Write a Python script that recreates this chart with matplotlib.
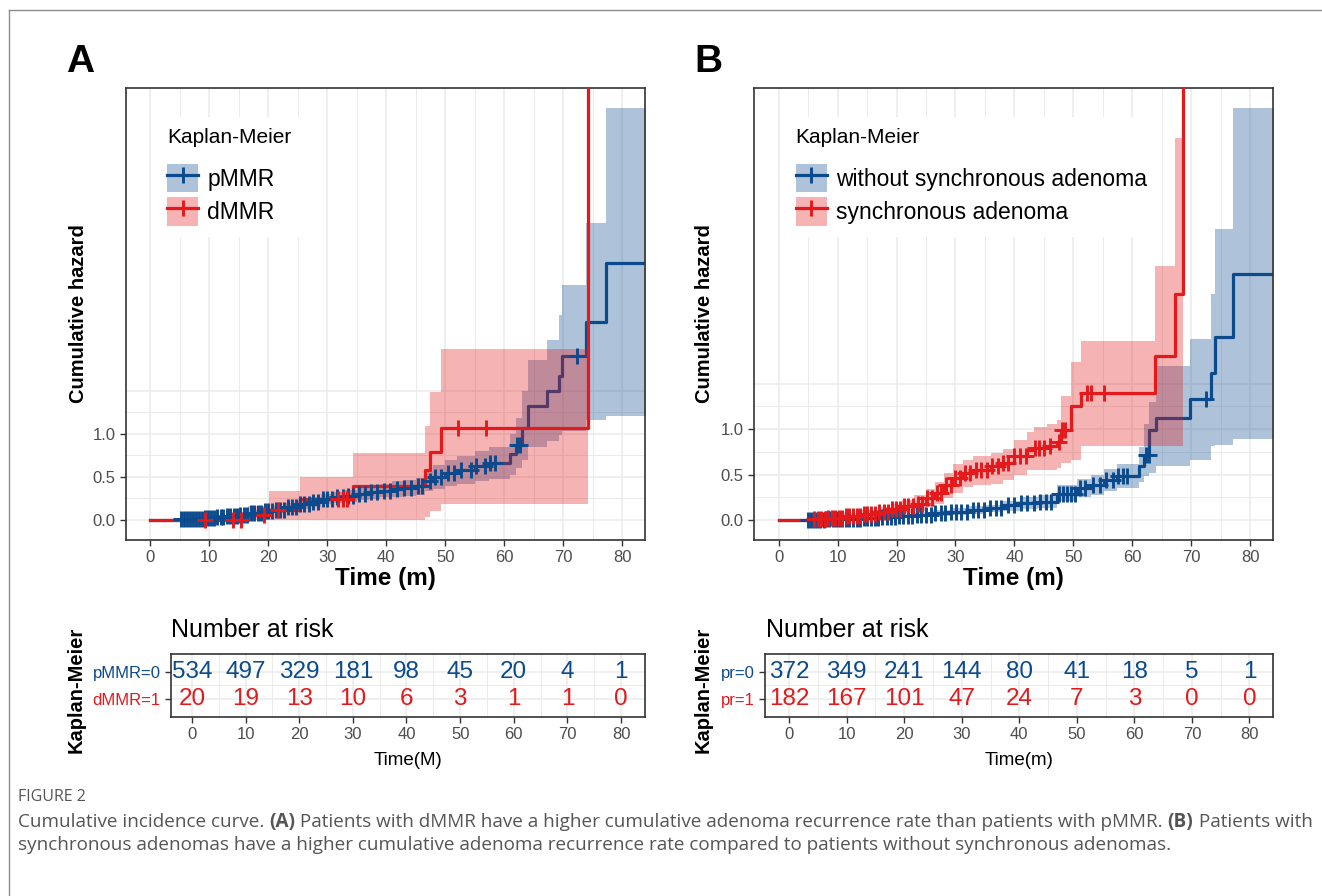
import numpy as np
import matplotlib
matplotlib.use('Agg')
import matplotlib.pyplot as plt
from matplotlib.patches import Patch
from matplotlib.lines import Line2D

plt.rcParams['font.family'] = ['Liberation Sans', 'DejaVu Sans']

BLUE = '#0B4A8C'
RED = '#E3191C'
GRID = '#EBEBEB'
BIG = 1000  # cumulative hazard goes to infinity at the last event

# ---------------- panel A: pMMR vs dMMR ----------------
a_pmmr_t = [0, 5, 7, 9, 11, 13, 15, 17, 19, 21, 23, 25, 27, 29, 31, 33, 35, 37, 39, 41,
            43, 45, 46.5, 48, 50, 52, 55, 57.5, 61, 62, 63, 64, 67.3, 69.3, 69.8, 73.8, 77.3]
a_pmmr_v = [0, 0.005, 0.01, 0.02, 0.03, 0.045, 0.06, 0.08, 0.10, 0.12, 0.15, 0.18, 0.21, 0.24,
            0.26, 0.28, 0.30, 0.32, 0.34, 0.36, 0.37, 0.39, 0.45, 0.50, 0.54, 0.58, 0.62, 0.66,
            0.76, 0.87, 1.07, 1.32, 1.49, 1.67, 1.90, 2.29, 2.98]
a_pmmr_lo = [0, 0, 0, 0.005, 0.01, 0.02, 0.03, 0.045, 0.06, 0.08, 0.10, 0.13, 0.15, 0.18, 0.20,
             0.21, 0.23, 0.24, 0.26, 0.27, 0.28, 0.29, 0.33, 0.36, 0.39, 0.42, 0.45, 0.47, 0.52,
             0.60, 0.70, 0.85, 0.92, 0.98, 1.03, 1.16, 1.20]
a_pmmr_up = [0, 0.015, 0.025, 0.04, 0.055, 0.07, 0.09, 0.115, 0.14, 0.165, 0.20, 0.23, 0.27,
             0.30, 0.32, 0.35, 0.37, 0.40, 0.42, 0.45, 0.46, 0.49, 0.57, 0.64, 0.69, 0.74, 0.80,
             0.84, 1.00, 1.18, 1.50, 1.86, 2.09, 2.38, 2.72, 3.44, 4.78]
a_pmmr_end = 84
a_pmmr_cens = [5.2, 5.7, 6.2, 6.7, 7.2, 7.7, 8.2, 8.7, 9.2, 9.7, 10.2, 10.8, 11.3, 11.9, 12.4,
               13.0, 13.5, 14.1, 14.7, 15.2, 15.8, 16.4, 17.0, 17.6, 18.2, 18.8, 19.4, 20.0,
               20.7, 21.3, 22.0, 22.6, 23.3, 24.0, 24.7, 25.4, 26.1, 26.9, 27.6, 28.4, 29.2,
               30.0, 30.8, 31.7, 32.6, 33.5, 34.4, 35.4, 36.4, 37.4, 38.5, 39.6, 40.7, 41.8,
               43.0, 44.2, 45.3, 46.1, 47.4, 48.2, 49.3, 50.4, 51.5, 52.6, 54.3, 55.2, 56.8,
               57.6, 58.4, 62.1, 62.6, 72.3]

a_dmmr_t = [0, 16.5, 20.2, 25.3, 34.3, 46.6, 47.5, 49.2, 74.2]
a_dmmr_v = [0, 0.055, 0.12, 0.24, 0.39, 0.58, 0.79, 1.07, BIG]
a_dmmr_lo = [0, 0, 0, 0, 0, 0.03, 0.10, 0.19, 0.19]
a_dmmr_up = [0, 0.16, 0.33, 0.50, 0.78, 1.09, 1.48, 1.98, 1.98]
a_dmmr_end = 74.2
a_dmmr_cens = [9.2, 14.0, 15.4, 19.3, 21.7, 31.8, 32.6, 33.4, 52.2, 56.9]

a_risk_times = [0, 10, 20, 30, 40, 50, 60, 70, 80]
a_risk_pmmr = [534, 497, 329, 181, 98, 45, 20, 4, 1]
a_risk_dmmr = [20, 19, 13, 10, 6, 3, 1, 1, 0]

# ---------------- panel B: synchronous adenoma ----------------
b_no_t = [0, 5, 8, 11, 14, 17, 20, 23, 26, 29, 32, 35, 38, 41, 44, 47.3, 50.7, 53, 55.2, 57.5,
          61.1, 62.0, 62.9, 64.0, 69.8, 73.4, 74.0, 77.1]
b_no_v = [0, 0.003, 0.008, 0.015, 0.025, 0.035, 0.045, 0.06, 0.075, 0.09, 0.11, 0.13, 0.16,
          0.19, 0.20, 0.29, 0.35, 0.39, 0.44, 0.48, 0.59, 0.71, 0.99, 1.12, 1.33, 1.62, 2.01, 2.71]
b_no_lo = [0, 0, 0, 0.003, 0.008, 0.015, 0.022, 0.03, 0.045, 0.055, 0.07, 0.085, 0.10, 0.12,
           0.13, 0.21, 0.25, 0.28, 0.32, 0.35, 0.42, 0.48, 0.52, 0.59, 0.66, 0.81, 0.83, 0.89]
b_no_up = [0, 0.01, 0.02, 0.03, 0.045, 0.06, 0.07, 0.09, 0.11, 0.13, 0.15, 0.17, 0.21, 0.25,
           0.27, 0.38, 0.45, 0.50, 0.56, 0.62, 0.80, 1.05, 1.30, 1.69, 1.99, 2.48, 3.20, 4.53]
b_no_end = 84
b_no_cens = [5.0, 5.5, 6.0, 6.5, 7.0, 7.6, 8.1, 8.6, 9.2, 9.7, 10.3, 10.8, 11.4, 12.0, 12.6,
             13.2, 13.8, 14.4, 15.0, 15.6, 16.3, 16.9, 17.6, 18.3, 19.0, 19.7, 20.4, 21.1, 21.9,
             22.6, 23.4, 24.2, 25.0, 25.8, 26.6, 27.5, 28.3, 29.2, 30.1, 31.0, 31.9, 32.9, 33.8,
             34.8, 35.8, 36.8, 37.8, 38.9, 40.0, 41.1, 42.2, 43.3, 44.4, 45.4, 46.2, 47.6, 48.2,
             48.9, 49.6, 50.3, 51.1, 52.0, 53.3, 54.5, 55.6, 56.8, 57.6, 58.4, 59.2, 62.4, 62.8,
             72.5]

b_syn_t = [0, 5, 8, 11, 14, 17, 19, 21, 23, 25, 26.5, 28, 29.5, 31.2, 33, 36, 38, 40, 42.2,
           43.3, 45.6, 47.3, 47.9, 49.6, 51.3, 63.9, 67.3, 68.7]
b_syn_v = [0, 0.01, 0.025, 0.045, 0.065, 0.09, 0.12, 0.15, 0.18, 0.24, 0.30, 0.38, 0.46, 0.52,
           0.55, 0.59, 0.63, 0.70, 0.77, 0.79, 0.81, 0.86, 0.99, 1.25, 1.40, 1.80, 2.49, BIG]
b_syn_lo = [0, 0, 0.005, 0.015, 0.025, 0.04, 0.055, 0.075, 0.10, 0.14, 0.18, 0.24, 0.30, 0.36,
            0.38, 0.40, 0.44, 0.50, 0.55, 0.55, 0.55, 0.57, 0.63, 0.66, 0.81, 0.81, 0.81, 0.81]
b_syn_up = [0, 0.03, 0.05, 0.08, 0.11, 0.14, 0.18, 0.22, 0.27, 0.34, 0.42, 0.52, 0.62, 0.66,
            0.70, 0.74, 0.78, 0.88, 0.97, 1.02, 1.05, 1.10, 1.36, 1.74, 1.97, 2.79, 4.20, 4.20]
b_syn_end = 68.7
b_syn_cens = [6.0, 6.6, 7.2, 7.8, 8.4, 9.0, 9.6, 10.2, 10.8, 11.4, 12.0, 12.6, 13.2, 13.8, 14.4,
              15.0, 15.7, 16.4, 17.1, 17.8, 18.5, 19.2, 19.9, 20.6, 21.3, 22.0, 22.8, 23.6,
              24.4, 25.2, 26.0, 26.8, 27.6, 28.4, 29.2, 30.0, 30.8, 31.6, 32.5, 33.4, 34.3,
              35.3, 36.2, 37.2, 38.0, 39.0, 40.0, 40.9, 41.9, 43.5, 44.2, 45.0, 46.0, 47.6,
              48.1, 48.6, 52.4, 53.0, 55.2]

b_risk_times = [0, 10, 20, 30, 40, 50, 60, 70, 80]
b_risk_no = [372, 349, 241, 144, 80, 41, 18, 5, 1]
b_risk_syn = [182, 167, 101, 47, 24, 7, 3, 0, 0]

# ---------------- drawing ----------------
W, H = 1322, 896
fig = plt.figure(figsize=(W / 100, H / 100), dpi=100)


def add_ax(l, t, r, b):
    return fig.add_axes([l / W, 1 - b / H, (r - l) / W, (b - t) / H])


def step_xy(t, v, t_end):
    return np.append(t, t_end), np.append(v, v[-1])


def censor_y(t, v, cens):
    idx = np.searchsorted(t, cens, side='right') - 1
    return np.asarray(v)[idx]


def band(ax, t, lo, up, t_end, color, z):
    x, l = step_xy(t, lo, t_end)
    _, u = step_xy(t, up, t_end)
    ax.fill_between(x, l, u, step='post', color=color, alpha=0.33, lw=0, zorder=z)


def line(ax, t, v, t_end, color, z):
    x, y = step_xy(t, v, t_end)
    ax.step(x, y, where='post', color=color, lw=2.3, zorder=z)


def marks(ax, t, v, cens, color, z):
    ax.plot(cens, censor_y(t, v, cens), ls='none', marker='+', ms=12, mew=2.1,
            color=color, zorder=z)


def style_grid(ax):
    for x in range(0, 81, 10):
        ax.axvline(x, color=GRID, lw=1.1, zorder=0)
    for x in range(5, 80, 10):
        ax.axvline(x, color=GRID, lw=0.7, zorder=0)
    for s in ax.spines.values():
        s.set_color('#333333')
        s.set_linewidth(1.2)
    ax.set_xticks(range(0, 81, 10))
    ax.tick_params(length=4, width=1, color='#333333', labelcolor='#4D4D4D', labelsize=12)


def main_panel(ax, xlim, ylim, groups, labels, legend_anchor):
    ax.set_xlim(*xlim)
    ax.set_ylim(*ylim)
    style_grid(ax)
    for y in [0, 0.5, 1.0, 1.5]:
        ax.axhline(y, color=GRID, lw=1.1, zorder=0)
    for y in [0.25, 0.75, 1.25]:
        ax.axhline(y, color=GRID, lw=0.7, zorder=0)
    ax.set_yticks([0, 0.5, 1.0])
    ax.set_yticklabels(['0.0', '0.5', '1.0'])
    (t1, v1, lo1, up1, e1, c1), (t2, v2, lo2, up2, e2, c2) = groups
    band(ax, t1, lo1, up1, e1, BLUE, 1)
    line(ax, t1, v1, e1, BLUE, 2)
    band(ax, t2, lo2, up2, e2, RED, 3)
    line(ax, t2, v2, e2, RED, 4)
    marks(ax, t1, v1, c1, BLUE, 5)
    marks(ax, t2, v2, c2, RED, 6)
    handles = []
    for col in (BLUE, RED):
        handles.append((Patch(facecolor=col, alpha=0.33, edgecolor='none'),
                        Line2D([], [], color=col, lw=2.3, marker='+', ms=12, mew=2.1)))
    leg = ax.legend(handles, labels, title='Kaplan-Meier', loc='upper left',
                    bbox_to_anchor=legend_anchor, fontsize=16.5, title_fontsize=15,
                    frameon=True, facecolor='white', edgecolor='none', framealpha=1,
                    fancybox=False, handlelength=1.35, handleheight=1.55, handletextpad=0.4,
                    labelspacing=0.2, borderpad=0.5, alignment='left')
    # wider gap between the legend title and its keys
    leg._legend_box.sep = 12
    leg.set_zorder(10)


def risk_table(ax, xlim, times, rows, row_labels):
    ax.set_xlim(*xlim)
    ax.set_ylim(0.35, 2.64)
    style_grid(ax)
    for y in [1, 2]:
        ax.axhline(y, color=GRID, lw=1.1, zorder=0)
    ax.axhline(1.5, color=GRID, lw=0.7, zorder=0)
    for y, (vals, col) in zip([2, 1], rows):
        for x, n in zip(times, vals):
            ax.text(x, y, str(n), color=col, fontsize=17.5, ha='center', va='center')
    ax.set_yticks([2, 1])
    ax.set_yticklabels(row_labels, fontsize=12)
    for lab, (_, col) in zip(ax.get_yticklabels(), rows):
        lab.set_color(col)


axA = add_ax(126, 88, 645, 540)
main_panel(axA, (-4.13, 83.87), (-0.233, 5.01),
           [(a_pmmr_t, a_pmmr_v, a_pmmr_lo, a_pmmr_up, a_pmmr_end, a_pmmr_cens),
            (a_dmmr_t, a_dmmr_v, a_dmmr_lo, a_dmmr_up, a_dmmr_end, a_dmmr_cens)],
           ['pMMR', 'dMMR'], (0.035, 0.962))

axB = add_ax(754, 88, 1273, 540)
main_panel(axB, (-4.2, 83.9), (-0.22, 4.75),
           [(b_no_t, b_no_v, b_no_lo, b_no_up, b_no_end, b_no_cens),
            (b_syn_t, b_syn_v, b_syn_lo, b_syn_up, b_syn_end, b_syn_cens)],
           ['without synchronous adenoma', 'synchronous adenoma'], (0.036, 0.962))

tA = add_ax(171, 654, 645, 717)
risk_table(tA, (-3.9, 84.46), a_risk_times,
           [(a_risk_pmmr, BLUE), (a_risk_dmmr, RED)], ['pMMR=0', 'dMMR=1'])
tB = add_ax(765, 654, 1273, 717)
risk_table(tB, (-4.2, 84.1), b_risk_times,
           [(b_risk_no, BLUE), (b_risk_syn, RED)], ['pr=0', 'pr=1'])

# ---------------- texts ----------------
def ftext(x, y, s, **kw):
    return fig.text(x / W, 1 - y / H, s, **kw)


ftext(80, 62, 'A', fontsize=28, fontweight='bold', ha='center', va='center')
ftext(708, 62, 'B', fontsize=28, fontweight='bold', ha='center', va='center')
for x in (78, 704):
    ftext(x, 314, 'Cumulative hazard', rotation=90, fontsize=14.5, fontweight='bold',
          ha='center', va='center')
for x in (76, 703):
    ftext(x, 690, 'Kaplan-Meier', rotation=90, fontsize=14.5, fontweight='bold',
          ha='center', va='center')
ftext(385, 578, 'Time (m)', fontsize=17.5, fontweight='bold', ha='center', va='center')
ftext(1013, 578, 'Time (m)', fontsize=17.5, fontweight='bold', ha='center', va='center')
ftext(171, 630, 'Number at risk', fontsize=18, ha='left', va='center')
ftext(766, 630, 'Number at risk', fontsize=18, ha='left', va='center')
ftext(408, 760, 'Time(M)', fontsize=13.5, ha='center', va='center')
ftext(1019, 760, 'Time(m)', fontsize=13.5, ha='center', va='center')

# figure frame (top and left edges)
for xs, ys in [([9, 1322], [10, 10]), ([9, 9], [10, 896])]:
    fig.add_artist(Line2D([x / W for x in xs], [1 - y / H for y in ys],
                          color='#8C8C8C', lw=1, transform=fig.transFigure))

# caption
CAP = dict(family=['Open Sans', 'DejaVu Sans'], color='#555555')
renderer = fig.canvas.get_renderer()


def width(s, **kw):
    t = fig.text(0, 0, s + '|', **kw)
    w = t.get_window_extent(renderer).width
    t.remove()
    t = fig.text(0, 0, '|', **kw)
    w -= t.get_window_extent(renderer).width
    t.remove()
    return w


line1 = [('Cumulative incidence curve. ', 'normal'), ('(A)', 'bold'),
         (' Patients with dMMR have a higher cumulative adenoma recurrence rate than '
          'patients with pMMR. ', 'normal'), ('(B)', 'bold'), (' Patients with', 'normal')]
line2 = [('synchronous adenomas have a higher cumulative adenoma recurrence rate compared '
          'to patients without synchronous adenomas.', 'normal')]
probe = sum(width(s, fontsize=12, fontweight=w, **CAP) for s, w in line1)
cap_size = 12 * 1290 / probe

ftext(18, 797, 'FIGURE 2', fontsize=cap_size * 0.85, ha='left', va='center', **CAP)
for y, pieces in [(822, line1), (845, line2)]:
    x = 18
    for s, w in pieces:
        ftext(x, y, s, fontsize=cap_size, fontweight=w, ha='left', va='center', **CAP)
        x += width(s, fontsize=cap_size, fontweight=w, **CAP)

fig.savefig('out.png', dpi=100)
